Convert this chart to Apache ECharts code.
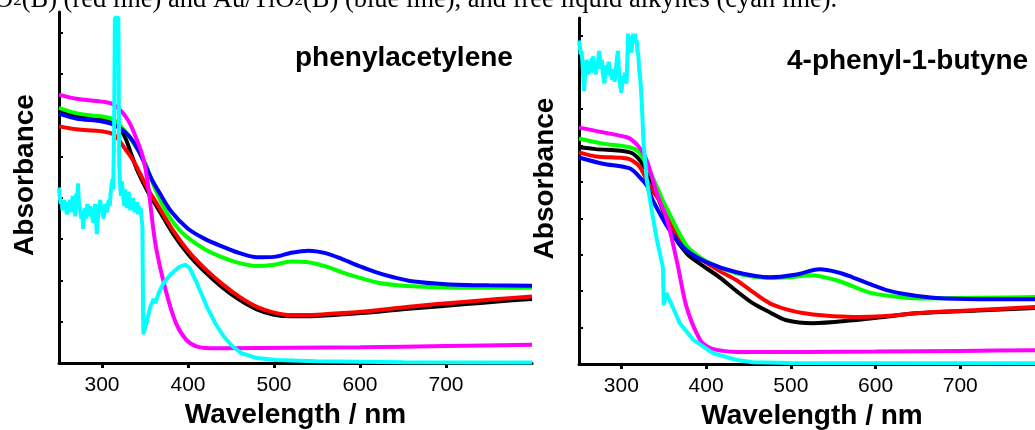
<!DOCTYPE html>
<html>
<head>
<meta charset="utf-8">
<script src="https://cdn.jsdelivr.net/npm/echarts@6.0.0/dist/echarts.min.js"></script>
<style>
  html, body { margin: 0; padding: 0; background: #fff; }
  #chart { width: 1035px; height: 430px; }
</style>
</head>
<body>
<div id="chart"></div>
<script>
// Wavelength ticks shared by both panels
const waveTicks = [300, 400, 500, 600, 700];

// phenylacetylene panel - [wavelength, absorbance]
const phBlack = [[250,6.1],[270,5.98],[300,5.9],[314,5.82],[326,5.5],[335,5.0],[342,4.62],[354,4.12],[364,3.78],[383,3.12],[400,2.64],[420,2.2],[440,1.83],[460,1.53],[480,1.3],[500,1.17],[520,1.13],[550,1.14],[580,1.18],[620,1.24],[660,1.32],[720,1.42],[760,1.49],[800,1.55]];
const phRed = [[250,5.73],[270,5.66],[300,5.61],[314,5.53],[326,5.21],[335,4.95],[342,4.68],[354,4.19],[364,3.85],[383,3.2],[400,2.72],[420,2.28],[440,1.91],[460,1.6],[480,1.36],[500,1.22],[520,1.16],[550,1.17],[580,1.21],[620,1.28],[660,1.37],[720,1.48],[760,1.55],[800,1.61]];
const phGreen = [[250,6.18],[270,6.05],[290,5.99],[300,5.97],[314,5.89],[322,5.73],[334,5.41],[350,4.85],[362,4.2],[375,3.65],[390,3.22],[400,3.03],[420,2.75],[440,2.56],[460,2.42],[480,2.35],[500,2.38],[520,2.46],[540,2.44],[560,2.34],[580,2.19],[600,2.06],[620,1.95],[640,1.89],[660,1.86],[700,1.83],[750,1.82],[800,1.82]];
const phBlue = [[250,6.04],[270,5.92],[300,5.85],[314,5.77],[330,5.53],[342,5.16],[358,4.44],[366,4.15],[380,3.68],[400,3.25],[420,3.0],[440,2.82],[460,2.66],[480,2.56],[500,2.57],[520,2.67],[540,2.72],[560,2.66],[580,2.51],[600,2.34],[620,2.19],[640,2.07],[660,1.98],[700,1.91],[750,1.88],[800,1.87]];
const phMagenta = [[250,6.5],[270,6.4],[300,6.33],[314,6.25],[330,5.89],[342,5.33],[348,4.95],[353,4.4],[362,2.9],[374,1.77],[386,0.97],[398,0.56],[410,0.4],[425,0.36],[442,0.36],[600,0.38],[700,0.41],[800,0.44]];
const phCyan = [[250,4.25],[251,4.0],[252,3.85],[253,3.95],[254,3.7],[255,3.8],[256,3.95],[257,3.75],[258,3.85],[259,3.6],[260,3.7],[261,3.9],[262,3.8],[263,3.95],[264,3.65],[265,3.8],[266,4.05],[267,3.7],[268,3.85],[269,3.55],[270,4.1],[271,3.9],[272,4.35],[273,3.95],[274,3.8],[275,3.65],[276,3.5],[277,3.7],[278,3.25],[279,3.55],[280,3.75],[281,3.5],[282,3.6],[283,3.85],[284,3.7],[285,3.55],[286,3.8],[287,3.6],[288,3.75],[289,3.5],[290,3.4],[291,3.7],[292,3.85],[293,3.5],[294,3.12],[295,3.45],[296,3.65],[297,3.8],[298,3.95],[299,3.7],[300,3.75],[301,3.6],[302,3.5],[303,3.75],[304,3.85],[305,3.65],[306,3.7],[307,3.85],[308,3.95],[309,3.8],[310,4.1],[311,4.3],[312,4.45],[313,4.2],[314,5.5],[315,8.36],[319,8.36],[320,4.8],[321,4.3],[322,4.05],[323,4.4],[324,4.2],[325,3.95],[326,3.8],[327,4.2],[328,4.05],[329,3.75],[330,3.9],[331,4.15],[332,3.85],[333,3.7],[334,3.95],[335,3.75],[336,4.0],[337,3.8],[338,3.65],[339,3.85],[340,3.7],[341,3.9],[342,3.6],[343,3.8],[344,3.65],[345,3.75],[346,3.5],[347,3.3],[348,0.7],[352,1.0],[356,1.35],[360,1.55],[362,1.45],[366,1.7],[372,1.95],[380,2.15],[390,2.33],[397,2.38],[402,2.3],[410,1.95],[422,1.36],[432,0.95],[442,0.63],[452,0.4],[462,0.24],[480,0.12],[502,0.07],[550,0.04],[650,0.02],[800,0.01]];

// 4-phenyl-1-butyne panel
const buBlack = [[250,5.95],[270,5.9],[310,5.81],[322,5.59],[334,5.1],[346,4.4],[360,3.6],[377,3.04],[396,2.7],[416,2.38],[436,2.0],[455,1.67],[475,1.42],[495,1.2],[526,1.12],[573,1.2],[612,1.3],[652,1.4],[720,1.47],[800,1.55]];
const buRed = [[250,5.81],[270,5.7],[300,5.66],[310,5.62],[322,5.4],[334,4.85],[346,4.45],[360,3.75],[377,3.21],[396,2.85],[416,2.55],[436,2.3],[455,1.98],[475,1.67],[495,1.5],[514,1.4],[540,1.33],[573,1.29],[612,1.32],[652,1.4],[720,1.48],[800,1.58]];
const buGreen = [[250,6.19],[278,6.05],[310,5.95],[322,5.78],[337,5.12],[349,4.49],[354,4.25],[377,3.25],[396,2.88],[416,2.65],[436,2.49],[455,2.4],[475,2.36],[500,2.38],[522,2.44],[554,2.3],[593,1.96],[620,1.86],[652,1.8],[720,1.82],[800,1.84]];
const buBlue = [[250,5.67],[278,5.5],[310,5.37],[322,5.12],[330,4.9],[337,4.5],[357,3.67],[377,3.12],[401,2.79],[436,2.52],[475,2.38],[505,2.45],[534,2.6],[555,2.52],[573,2.38],[593,2.2],[613,2.03],[640,1.9],[672,1.81],[720,1.78],[800,1.78]];
const buMagenta = [[250,6.49],[298,6.27],[310,6.19],[322,5.92],[330,5.59],[342,4.68],[354,3.95],[366,2.77],[377,1.56],[393,0.66],[405,0.44],[420,0.36],[436,0.33],[600,0.34],[700,0.36],[800,0.38]];
const buCyan = [[250,8.88],[251,8.7],[252,8.5],[253,8.6],[254,8.3],[255,7.9],[256,7.5],[257,7.9],[258,8.1],[259,8.35],[260,8.2],[261,7.95],[262,8.1],[263,8.3],[264,8.0],[265,8.4],[266,8.2],[267,8.45],[268,8.0],[269,8.15],[270,7.95],[271,8.3],[272,8.1],[273,8.45],[274,8.6],[275,8.25],[276,8.1],[277,8.35],[278,8.0],[279,7.85],[280,7.7],[281,8.0],[282,8.2],[283,7.95],[284,8.1],[285,8.3],[286,8.15],[287,7.9],[288,8.05],[289,7.8],[290,7.95],[291,8.1],[292,7.75],[293,7.95],[294,8.2],[295,8.45],[296,8.6],[297,8.1],[298,7.8],[299,7.6],[300,7.45],[301,7.7],[302,7.9],[303,7.75],[304,8.0],[305,7.85],[306,7.7],[307,8.3],[308,9.07],[309,8.8],[310,9.0],[311,8.7],[312,8.55],[313,8.9],[314,9.07],[315,8.85],[316,9.07],[317,8.8],[318,8.9],[319,8.6],[320,8.5],[321,8.1],[322,7.9],[323,7.6],[324,7.2],[325,6.7],[326,6.14],[330,5.04],[336,4.2],[342,3.4],[349,2.66],[350,1.62],[353,1.95],[358,1.7],[369,1.12],[385,0.66],[408,0.3],[436,0.11],[455,0.05],[500,0.03],[800,0.02]];

const chart = echarts.init(document.getElementById('chart'));

const sans = 'Liberation Sans, Arial, sans-serif';
const boldText = { fontFamily: sans, fontSize: 28, fontWeight: 'bold', color: '#000' };

// same look for both panels, only the grid differs
const xAxisFor = (idx) => ({
    gridIndex: idx,
    type: 'value',
    min: 250,
    max: 800,
    name: 'Wavelength / nm',
    nameLocation: 'middle',
    nameGap: 37,
    nameTextStyle: boldText,
    axisLine: { lineStyle: { color: '#000', width: 3 } },
    axisTick: { show: true, length: 5, lineStyle: { color: '#000', width: 3 }, customValues: waveTicks },
    axisLabel: { fontFamily: sans, fontSize: 21, color: '#000', margin: 12, customValues: waveTicks },
    splitLine: { show: false }
});

const yAxisFor = (idx, max, ticks) => ({
    gridIndex: idx,
    type: 'value',
    min: 0,
    max: max,
    name: 'Absorbance',
    nameLocation: 'middle',
    nameRotate: 90,
    nameGap: 20,
    nameTextStyle: Object.assign({ padding: [0, 0, 0, 25] }, boldText),
    axisLine: { show: true, lineStyle: { color: '#000', width: 3 } },
    axisTick: { show: true, inside: true, length: 4, lineStyle: { color: '#000', width: 2 }, customValues: ticks },
    axisLabel: { show: false },
    splitLine: { show: false }
});

const line = (data, color, idx, smooth) => ({
    type: 'line',
    xAxisIndex: idx,
    yAxisIndex: idx,
    data: data,
    showSymbol: false,
    smooth: smooth,
    lineStyle: { color: color, width: 4 },
    itemStyle: { color: color }
});

chart.setOption({
    animation: false,
    grid: [
        { left: 59, right: 503, top: 12, bottom: 67, outerBoundsMode: 'none' },
        { left: 579, right: -10, top: 18, bottom: 66, outerBoundsMode: 'none' }
    ],
    title: [
        { text: 'phenylacetylene', left: 295, top: 44, padding: 0, textStyle: boldText },
        { text: '4-phenyl-1-butyne', left: 787, top: 47, padding: 0, textStyle: boldText }
    ],
    // caption line of the page, cut off at the top
    graphic: [{
        type: 'text',
        x: -6,
        y: 14,
        style: {
            text: 'O{s|2}(B) (red line) and Au/TiO{s|2}(B) (blue line), and free liquid alkynes (cyan line).',
            fontFamily: 'Liberation Serif, Times New Roman, serif',
            fontSize: 26.5,
            fill: '#000',
            verticalAlign: 'bottom',
            rich: { s: { fontSize: 17, fontFamily: 'Liberation Serif, serif', fill: '#000' } }
        }
    }],
    xAxis: [xAxisFor(0), xAxisFor(1)],
    yAxis: [
        yAxisFor(0, 8.5, [1, 2, 3, 4, 5, 6, 7, 8]),
        yAxisFor(1, 9.5, [1, 2, 3, 4, 5, 6, 7, 8, 9])
    ],
    series: [
        line(phBlack, '#000000', 0, 0.3),
        line(phRed, '#ff0000', 0, 0.3),
        line(phGreen, '#00ff00', 0, 0.3),
        line(phBlue, '#0000ff', 0, 0.3),
        line(phMagenta, '#ff00ff', 0, 0.3),
        line(phCyan, '#00ffff', 0, false),
        line(buBlack, '#000000', 1, 0.3),
        line(buRed, '#ff0000', 1, 0.3),
        line(buGreen, '#00ff00', 1, 0.3),
        line(buBlue, '#0000ff', 1, 0.3),
        line(buMagenta, '#ff00ff', 1, 0.3),
        line(buCyan, '#00ffff', 1, false)
    ]
});
</script>
</body>
</html>
